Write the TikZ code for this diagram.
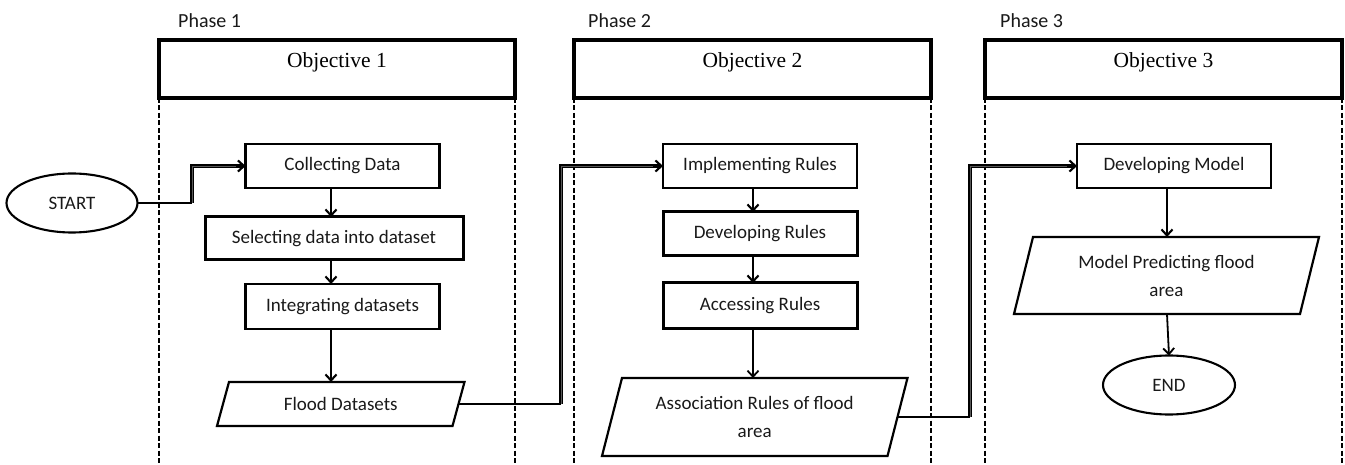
\documentclass[tikz,border=0pt]{standalone}
\usepackage{fontspec}
\newfontfamily\carl{Carlito}
\newfontfamily\objfont{Liberation Serif}
\usetikzlibrary{arrows.meta,shapes.geometric}
\begin{document}
\begin{tikzpicture}[x=1pt,y=-1pt,
  box/.style={draw, line width=2.2pt, minimum width=194pt, minimum height=44pt, inner sep=0pt, outer sep=0pt, font=\carl\fontsize{19}{23}\selectfont, text=black!90},
  boxb/.style={box, line width=3pt},
  obj/.style={draw, line width=3.2pt, minimum width=356pt, inner sep=0pt, outer sep=0pt, text height=28pt, text depth=30pt, font=\objfont\fontsize{21.5}{24}\selectfont},
  term/.style={draw, ellipse, line width=2.1pt, minimum width=131pt, minimum height=59pt, inner sep=0pt, outer sep=0pt, font=\carl\fontsize{19}{23}\selectfont, text=black!90},
  para/.style={inner sep=0pt, outer sep=0pt, align=center, font=\carl\fontsize{19}{28}\selectfont, text=black!90},
  paraline/.style={line width=2.2pt, line join=miter},
  phase/.style={anchor=west, inner sep=0pt, font=\carl\fontsize{20}{24}\selectfont, text=black!90},
  sep/.style={dash pattern=on 5pt off 2.5pt, line width=1.8pt},
  arr/.style={line width=2.1pt, -{Straight Barb[length=6pt,width=11pt]}},
  link/.style={line width=1.7pt},
  dlink/.style={double=black!65, double distance=0.9pt, line width=1.1pt}
]
\useasboundingbox (0,0) rectangle (1345,465);
\coordinate (bot) at (0,465);

% phase labels
\node[phase] (p1) at (178,21) {Phase 1};
\node[phase] (p2) at (588,21) {Phase 2};
\node[phase] (p3) at (1000,21) {Phase 3};

% objective headers
\node[obj] (o1) at (337,69) {Objective 1};
\node[obj, minimum width=357pt] (o2) at (752.5,69) {Objective 2};
\node[obj, minimum width=357pt] (o3) at (1163.5,69) {Objective 3};

% swimlane separators
\foreach \o in {o1,o2,o3}{
  \draw[sep] (\o.south west) -- (\o.south west |- bot);
  \draw[sep] (\o.south east) -- (\o.south east |- bot);
}

% phase 1
\node[term] (start) at (72,203) {START};
\node[box] (cd) at (342.5,166) {Collecting Data};
\node[boxb, minimum width=258pt, minimum height=43pt] (sel) at (334,238.5) {Selecting data into dataset};
\node[box, minimum height=45pt] (int) at (342.5,306.5) {Integrating datasets};
\node[para, minimum width=235.5pt, minimum height=44pt] (fl) at (340.75,404) {Flood Datasets};
\draw[paraline] ([xshift=6pt]fl.north west) -- ([xshift=6pt]fl.north east) -- ([xshift=-6pt]fl.south east) -- ([xshift=-6pt]fl.south west) -- cycle;

% phase 2
\node[box] (imp) at (760,166) {Implementing Rules};
\node[boxb] (dr) at (760,234) {Developing Rules};
\node[boxb, minimum height=45pt] (acc) at (760,305.5) {Accessing Rules};
\node[para, minimum width=285.5pt, minimum height=78pt] (as) at (754.75,417) {Association Rules of flood\\area};
\draw[paraline] ([xshift=10pt]as.north west) -- ([xshift=10pt]as.north east) -- ([xshift=-10pt]as.south east) -- ([xshift=-10pt]as.south west) -- cycle;

% phase 3
\node[box] (dm) at (1174,166) {Developing Model};
\node[para, minimum width=286pt, minimum height=77pt] (mp) at (1166.5,275.5) {Model Predicting flood\\area};
\draw[paraline] ([xshift=9.5pt]mp.north west) -- ([xshift=9.5pt]mp.north east) -- ([xshift=-9.5pt]mp.south east) -- ([xshift=-9.5pt]mp.south west) -- cycle;
\node[term, minimum width=132pt] (end) at (1169,385) {END};

% vertical arrows
\coordinate (xa) at (331,0);
\coordinate (xb) at (753,0);
\coordinate (xc) at (1167,0);
\draw[arr] (xa |- cd.south) -- (xa |- sel.north);
\draw[arr] (xa |- sel.south) -- (xa |- int.north);
\draw[arr] (xa |- int.south) -- (xa |- fl.north);
\draw[arr] (xb |- imp.south) -- (xb |- dr.north);
\draw[arr] (xb |- dr.south) -- (xb |- acc.north);
\draw[arr, line width=1.8pt] (xb |- acc.south) -- (xb |- as.north);
\draw[arr] (xc |- dm.south) -- (xc |- mp.north);
\draw[arr, line width=1.8pt] (xc |- mp.south) -- (end.north);

% cross-phase connectors
\coordinate (k1) at (192,203);
\coordinate (k2) at (561,404);
\coordinate (k3) at (970,417);
\draw[link] (start.east) -- (k1);
\draw[dlink] (k1) |- ([xshift=-3pt]cd.west);
\draw[arr] ([xshift=-10pt]cd.west) -- (cd.west);
\draw[link] (fl.east) -- (k2);
\draw[dlink] (k2) |- ([xshift=-3pt]imp.west);
\draw[arr] ([xshift=-10pt]imp.west) -- (imp.west);
\draw[link] (as.east) -- (k3);
\draw[dlink] (k3) |- ([xshift=-3pt]dm.west);
\draw[arr] ([xshift=-10pt]dm.west) -- (dm.west);
\end{tikzpicture}
\end{document}
